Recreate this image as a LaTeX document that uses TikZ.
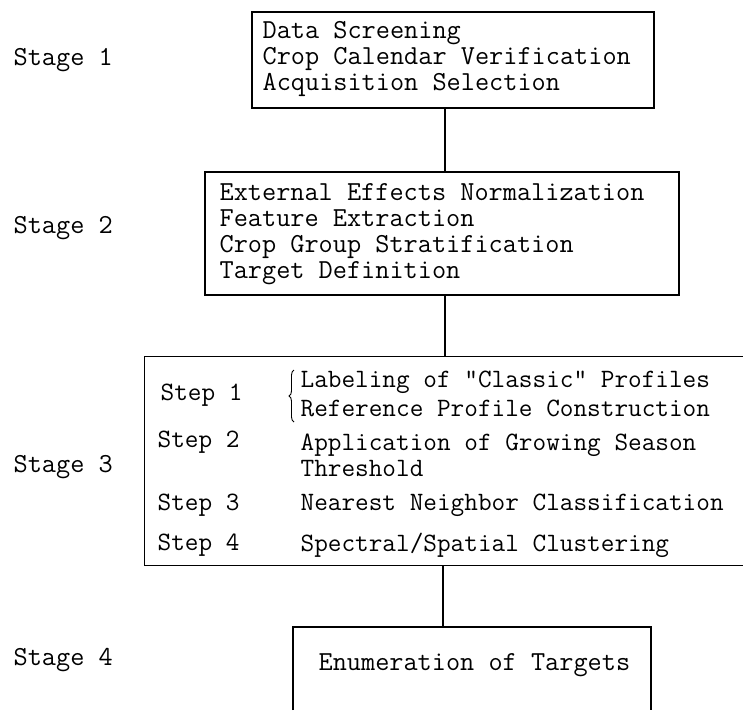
\documentclass[tikz,border=0pt]{standalone}
\usepackage{fontspec}
\usetikzlibrary{decorations.pathreplacing}
\begin{document}
\begin{tikzpicture}[x=1pt,y=-1pt,
  line width=1.2pt,
  boxtxt/.style={inner sep=0pt, anchor=west, align=left, font=\ttfamily\fontsize{27.5}{26}\selectfont},
  steptxt/.style={inner sep=0pt, anchor=west, align=left, font=\ttfamily\fontsize{26.5}{26}\selectfont},
  stagetxt/.style={inner sep=0pt, anchor=west, font=\ttfamily\fontsize{27.5}{25}\selectfont},
  frame/.style={draw, inner sep=0pt},
  bracepath/.style={decorate, decoration={brace, amplitude=5pt}, line width=0.9pt}]
\useasboundingbox (0,0) rectangle (743,710);

% Stage labels
\node[stagetxt] (s1) at (13,60) {Stage 1};
\node[stagetxt] (s2) at (13,228) {Stage 2};
\node[stagetxt] (s3) at (13,467) {Stage 3};
\node[stagetxt] (s4) at (13,660) {Stage 4};

% Box 1
\node[frame, minimum width=402pt, minimum height=96pt] (b1) at (453,60) {};
\node[boxtxt] (t1) at (262,59) {Data Screening\\Crop Calendar Verification\\Acquisition Selection};

% Box 2
\node[frame, minimum width=474pt, minimum height=123pt] (b2) at (442,233.5) {};
\node[boxtxt] (t2) at (219,234) {External Effects Normalization\\Feature Extraction\\Crop Group Stratification\\Target Definition};

% Box 3 (open to the right edge)
\node[inner sep=0pt, minimum width=598pt, minimum height=208pt] (b3) at (444,461) {};
\draw (b3.north east) -- (b3.north west) -- (b3.south west) -- (b3.south east);

\node[steptxt] (st1) at (160,395) {Step 1};
\coordinate (brb) at (294,422);
\coordinate (brt) at (294,370);
\draw[bracepath] (brb) -- (brt);
\node[steptxt] (l1a) at (300,382) {Labeling of {\char34}Classic{\char34} Profiles};
\node[steptxt] (l1b) at (300,408) {Reference Profile Construction};
\node[steptxt] (st2) at (157,442) {Step 2};
\node[steptxt] (l2) at (300,455) {Application of Growing Season\\Threshold};
\node[steptxt] (st3) at (157,505) {Step 3};
\node[steptxt] (l3) at (300,505) {Nearest Neighbor Classification};
\node[steptxt] (st4) at (157,545) {Step 4};
\node[steptxt] (l4) at (300,545) {Spectral/Spatial Clustering};

% Box 4 (open at the bottom)
\coordinate (b4nw) at (293,627);
\coordinate (b4ne) at (651,627);
\coordinate (b4sw) at (293,710);
\coordinate (b4se) at (651,710);
\draw (b4sw) -- (b4nw) -- (b4ne) -- (b4se);
\node[boxtxt] (t4) at (318,665) {Enumeration of Targets};

% Connectors
\coordinate (x12) at (445,0);
\coordinate (x34) at (443,0);
\draw (b1.south -| x12) -- (b2.north -| x12);
\draw (b2.south -| x12) -- (b3.north -| x12);
\draw (b3.south -| x34) -- (b4nw -| x34);
\end{tikzpicture}
\end{document}
